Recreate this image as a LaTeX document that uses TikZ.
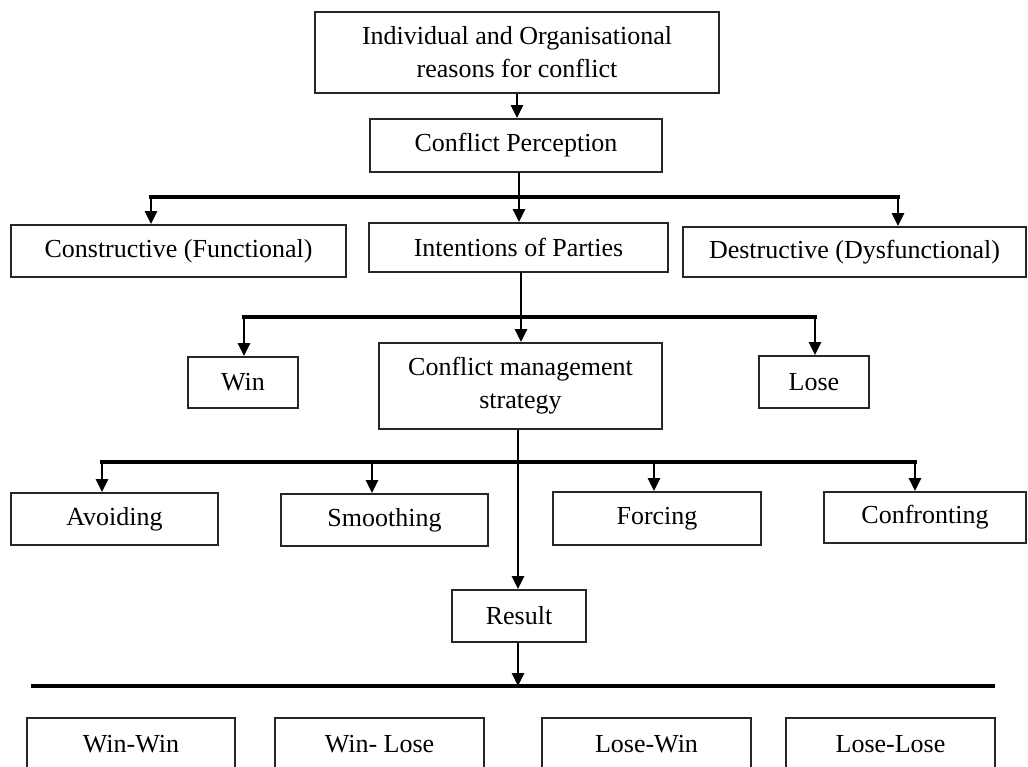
\documentclass[tikz,border=0pt]{standalone}
\usepackage{fontspec}
\setmainfont{Liberation Serif}
\usetikzlibrary{arrows.meta}
\begin{document}
\begin{tikzpicture}[x=1pt,y=-1pt,
  box/.style={draw=black!85, line width=1.8pt, fill=white, align=center,
    inner sep=0pt, font=\fontsize{26}{33}\selectfont},
  link/.style={line width=2.8pt, line cap=rect},
  arr/.style={line width=2.8pt, -{Triangle[length=13pt,width=12pt]}},
  bus/.style={line width=3.4pt, line cap=rect}]
\clip (0,0) rectangle (1028,766);
\fill[white] (0,0) rectangle (1028,766);

% level 0 and 1
\node[box, minimum width=404pt, minimum height=81pt] (top) at (517,52.5)
  {Individual and Organisational\\reasons for conflict};
\node[box, minimum width=292pt, minimum height=53pt] (perc) at (516,145.5)
  {Conflict Perception};

% level 2
\node[box, minimum width=335pt, minimum height=52pt] (cons) at (178.5,251)
  {Constructive (Functional)};
\node[box, minimum width=299pt, minimum height=49pt] (inten) at (518.5,247.5)
  {Intentions of Parties};
\node[box, minimum width=343pt, minimum height=50pt] (destr) at (854.5,252)
  {Destructive (Dysfunctional)};

% level 3
\node[box, minimum width=110pt, minimum height=51pt] (win) at (243,382.5) {Win};
\node[box, minimum width=283pt, minimum height=86pt] (cms) at (520.5,386)
  {Conflict management\\strategy};
\node[box, minimum width=110pt, minimum height=52pt] (lose) at (814,382) {Lose};

% strategies
\node[box, minimum width=207pt, minimum height=52pt] (avoid) at (114.5,519) {Avoiding};
\node[box, minimum width=207pt, minimum height=52pt] (smooth) at (384.5,520) {Smoothing};
\node[box, minimum width=208pt, minimum height=53pt] (forc) at (657,518.5) {Forcing};
\node[box, minimum width=202pt, minimum height=51pt] (confr) at (925,517.5) {Confronting};

% result
\node[box, minimum width=134pt, minimum height=52pt] (result) at (519,616) {Result};

% outcomes
\node[box, minimum width=208pt, minimum height=52pt] (ww) at (131,744) {Win-Win};
\node[box, minimum width=209pt, minimum height=52pt] (wl) at (379.5,744) {Win- Lose};
\node[box, minimum width=209pt, minimum height=52pt] (lw) at (646.5,744) {Lose-Win};
\node[box, minimum width=209pt, minimum height=52pt] (ll) at (890.5,744) {Lose-Lose};

% junction points
\coordinate (a0) at (519,197);
\coordinate (aL) at (151,197);
\coordinate (aR) at (898,197);
\coordinate (b0) at (521,317);
\coordinate (bL) at (244,317);
\coordinate (bR) at (815,317);
\coordinate (c0) at (518,462);
\coordinate (cL) at (102,462);
\coordinate (c2) at (372,462);
\coordinate (c3) at (654,462);
\coordinate (cR) at (915,462);
\coordinate (dL) at (31,686);
\coordinate (dR) at (995,686);

% connectors
\draw[arr] (top.south) -- (top.south |- perc.north);

\draw[link] (perc.south -| a0) -- (a0);
\draw[bus] (aL) -- (aR);
\draw[arr] (aL) -- (aL |- cons.north);
\draw[arr] (a0) -- (a0 |- inten.north);
\draw[arr] (aR) -- (aR |- destr.north);

\draw[link] (inten.south -| b0) -- (b0);
\draw[bus] (bL) -- (bR);
\draw[arr] (bL) -- (bL |- win.north);
\draw[arr] (b0) -- (b0 |- cms.north);
\draw[arr] (bR) -- (bR |- lose.north);

\draw[bus] (cL) -- (cR);
\draw[arr] (cL) -- (cL |- avoid.north);
\draw[arr] (c2) -- (c2 |- smooth.north);
\draw[arr] (c3) -- (c3 |- forc.north);
\draw[arr] (cR) -- (cR |- confr.north);
\draw[arr] (cms.south -| c0) -- (c0 |- result.north);

\draw[line width=4pt] (dL) -- (dR);
\draw[arr] (result.south -| c0) -- (c0 |- dL);
\end{tikzpicture}
\end{document}
